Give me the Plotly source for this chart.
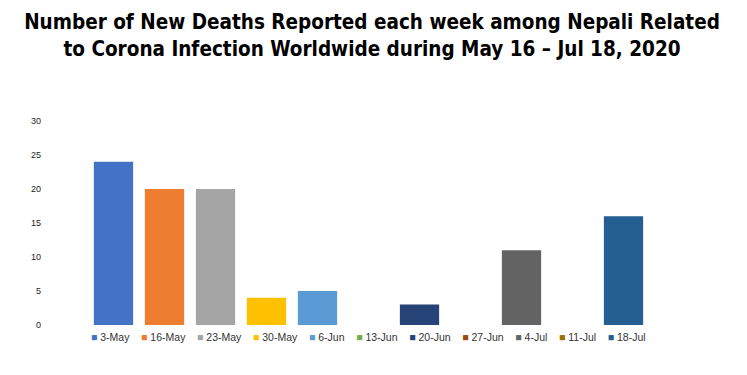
import plotly.graph_objects as go

weeks = ["3-May", "16-May", "23-May", "30-May", "6-Jun", "13-Jun",
         "20-Jun", "27-Jun", "4-Jul", "11-Jul", "18-Jul"]
deaths = [24, 20, 20, 4, 5, 0, 3, 0, 11, 0, 16]
colors = ["#4472C4", "#ED7D31", "#A5A5A5", "#FFC000", "#5B9BD5", "#70AD47",
          "#264478", "#9E480E", "#636363", "#997300", "#255E91"]
y_ticks = [0, 5, 10, 15, 20, 25, 30]

fig = go.Figure()
for w, d, c in zip(weeks, deaths, colors):
    fig.add_trace(go.Bar(x=[w], y=[d], name=w, marker=dict(color=c, line=dict(width=0))))

# legend row (Excel-style compact legend) built from the same names/colours
gap = "\u00a0" * 4
legend_text = gap.join(
    f"<span style='color:{c}'>\u25a0</span>\u00a0{w}" for w, c in zip(weeks, colors)
)
fig.add_annotation(text=legend_text, xref="paper", yref="paper", x=0.5, y=-0.059,
                   xanchor="center", yanchor="middle", showarrow=False,
                   font=dict(family="Liberation Sans, Arial, sans-serif", size=10.5, color="#333333"))

title_font = "DejaVu Sans Condensed, Liberation Sans Narrow, Arial Narrow, sans-serif"
fig.update_layout(
    width=739, height=367,
    margin=dict(l=80, r=98, t=113, b=50),
    paper_bgcolor="white", plot_bgcolor="white",
    barmode="relative", bargap=0.23,
    showlegend=False,
    title=dict(
        text="<b>Number of New Deaths Reported each week among Nepali Related<br>to Corona Infection Worldwide during May 16 \u2013 Jul 18, 2020</b>",
        x=0.4926, xanchor="center", xref="container", y=0.942, yanchor="top", yref="container",
        font=dict(family=title_font, size=20.5, color="black"),
    ),
    xaxis=dict(categoryorder="array", categoryarray=weeks, showticklabels=False,
               showgrid=False, showline=False, zeroline=False, ticks="", automargin=False),
    yaxis=dict(range=[0, 30], tickvals=y_ticks, showgrid=False, showline=False,
               zeroline=False, ticklabelstandoff=46, automargin=False,
               tickfont=dict(family="Liberation Sans, Arial, sans-serif", size=9, color="#222222")),
)

fig.write_html("out.html")
